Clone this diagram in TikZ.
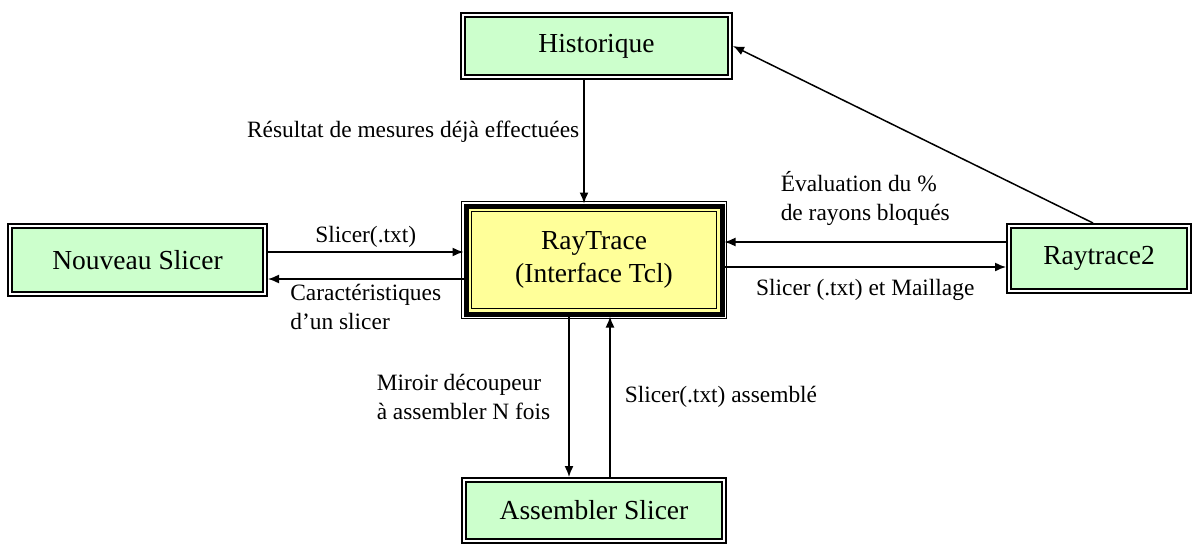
\documentclass[tikz,border=0pt]{standalone}
\usepackage{fontspec}
\setmainfont{Liberation Serif}
\usetikzlibrary{arrows.meta,fit,calc}

\definecolor{boxgreen}{HTML}{CCFFCC}
\definecolor{boxyellow}{HTML}{FFFF99}

\begin{document}
\begin{tikzpicture}[
  x=1pt, y=-1pt,
  module/.style={draw, fill=boxgreen, line width=1.8pt, double=white, double distance=2.4pt, outer sep=3pt, align=center, font=\fontsize{27.5}{33}\selectfont},
  core/.style={draw, fill=boxyellow, line width=5pt, minimum width=256pt, minimum height=108pt, align=center, font=\fontsize{27.5}{33}\selectfont},
  frame/.style={draw, line width=1.3pt, inner sep=2pt},
  lbl/.style={font=\fontsize{23.4}{29}\selectfont, align=left, inner sep=4pt},
  arrow/.style={-{Latex[length=11pt,width=9pt]}, line width=1.5pt}
]

\fill[white] (0,0) rectangle (1198,546);

\node[module, minimum width=267pt, minimum height=62pt] (hist) at (596.5,46) {Historique};
\node[core] (rt) at (594,260) {RayTrace\\(Interface Tcl)};
\node[module, minimum width=255pt, minimum height=68pt] (ns) at (137.5,260) {Nouveau Slicer};
\node[module, minimum width=180pt, minimum height=65pt] (rt2) at (1099,258.5) {Raytrace2};
\node[module, minimum width=260pt, minimum height=61pt] (asm) at (594,510.5) {Assembler Slicer};

% double frame round the central block
\node[frame, fit=(rt)] (rtframe) {};
\draw[line width=1.3pt] ([shift={(8,8)}]rt.north west) rectangle ([shift={(-8,-8)}]rt.south east);

\draw[arrow] ([xshift=-12.5pt]hist.south) -- ([xshift=-12.5pt]hist.south |- rt.north)
  node[lbl, left, pos=0.42] {Résultat de mesures déjà effectuées};

\draw[arrow] ([yshift=8pt]ns.east) -- ([yshift=8pt]ns.east -| rt.west)
  node[lbl, above, midway] {Slicer(.txt)};
\draw[arrow] ([yshift=-19pt]ns.east -| rt.west) -- ([yshift=-19pt]ns.east)
  node[lbl, below, midway] {Caractéristiques\\d’un slicer};

\draw[arrow] ([yshift=16.5pt]rt2.west) -- ([yshift=16.5pt]rt2.west -| rt.east)
  node[lbl, above=12pt, midway] {Évaluation du \%\\de rayons bloqués};
\draw[arrow] ([yshift=-8.5pt]rt2.west -| rt.east) -- ([yshift=-8.5pt]rt2.west)
  node[lbl, below=8pt, midway] {Slicer (.txt) et Maillage};

\draw[arrow] ([xshift=-6pt]rt2.north) -- (hist.east);

\draw[arrow] ([xshift=-25pt]rt.south) -- ([xshift=-25pt]rt.south |- asm.north)
  node[lbl, left=14pt, midway] {Miroir découpeur\\à assembler N fois};
\draw[arrow] ([xshift=16pt]rt.south |- asm.north) -- ([xshift=16pt]rt.south)
  node[lbl, right=10pt, midway] {Slicer(.txt) assemblé};
\end{tikzpicture}
\end{document}
